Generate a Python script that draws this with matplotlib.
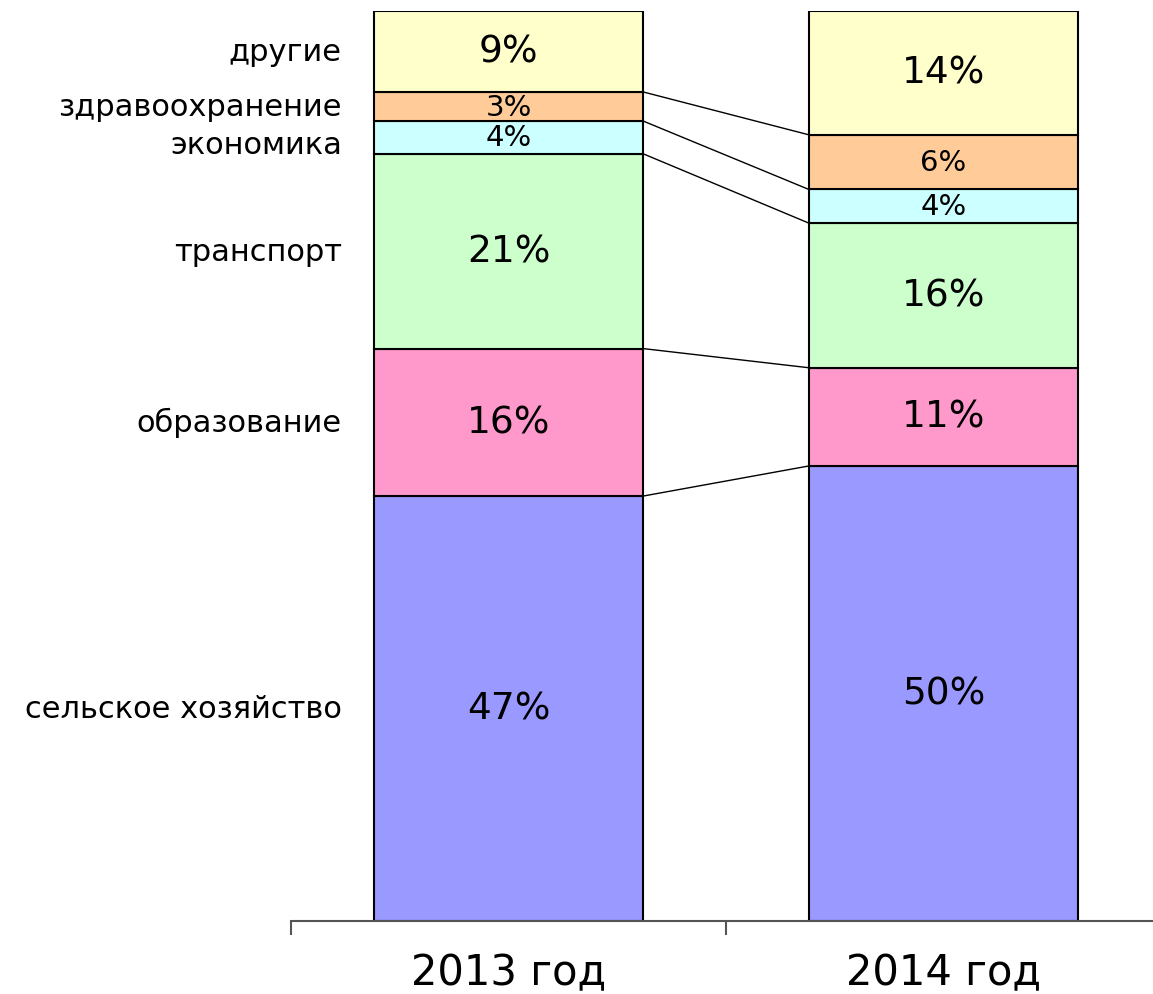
import numpy as np
import matplotlib.pyplot as plt

# данные (доли, %)
years = ['2013 год', '2014 год']
sectors = ['сельское хозяйство', 'образование', 'транспорт',
           'экономика', 'здравоохранение', 'другие']
share_2013 = [46.7, 16.2, 21.4, 3.6, 3.2, 8.9]
share_2014 = [50.0, 10.8, 15.9, 3.7, 6.0, 13.6]
colors = ['#9999FF', '#FF99CC', '#CCFFCC', '#CCFFFF', '#FFCC99', '#FFFFCC']

plt.rcParams['font.family'] = ['DejaVu Sans']

fig = plt.figure(figsize=(11.53, 9.95), dpi=100)
ax = fig.add_axes([291 / 1153, 73 / 995, 870 / 1153, 910 / 995])

data = np.array([share_2013, share_2014])
x = np.arange(len(years))
w = 0.62
bottom = np.zeros(len(years))
tops = []
for i, name in enumerate(sectors):
    vals = data[:, i]
    ax.bar(x, vals, w, bottom=bottom, color=colors[i],
           edgecolor='black', linewidth=1.5, zorder=2)
    for j in range(len(years)):
        size = 27 if vals[j] >= 7 else 21
        ax.text(x[j], bottom[j] + vals[j] / 2, f'{round(vals[j])}%',
                ha='center', va='center', fontsize=size, zorder=3)
    # подписи категорий слева
    dy = -5 if name == 'экономика' else 0
    ax.annotate(name, (x[0] - w / 2, bottom[0] + vals[0] / 2),
                xytext=(-23, dy), textcoords='offset points',
                ha='right', va='center', fontsize=22)
    bottom = bottom + vals
    tops.append(bottom.copy())

# линии рядов между столбцами
for t in tops[:-1]:
    ax.plot([x[0] + w / 2, x[1] - w / 2], [t[0], t[1]],
            color='black', linewidth=1, zorder=1)

ax.set_xlim(-0.5, 1.5)
ax.set_ylim(0, 100)
for s in ['top', 'left', 'right']:
    ax.spines[s].set_visible(False)
ax.spines['bottom'].set_color('#555555')
ax.spines['bottom'].set_linewidth(1.5)
ax.set_yticks([])
ax.set_xticks(x)
ax.set_xticklabels(years, fontsize=30)
ax.tick_params(axis='x', which='major', length=0, pad=22)
ax.set_xticks([-0.5, 0.5, 1.5], minor=True)
ax.tick_params(axis='x', which='minor', length=10, width=1.5, color='#555555')

plt.savefig('out.png')
